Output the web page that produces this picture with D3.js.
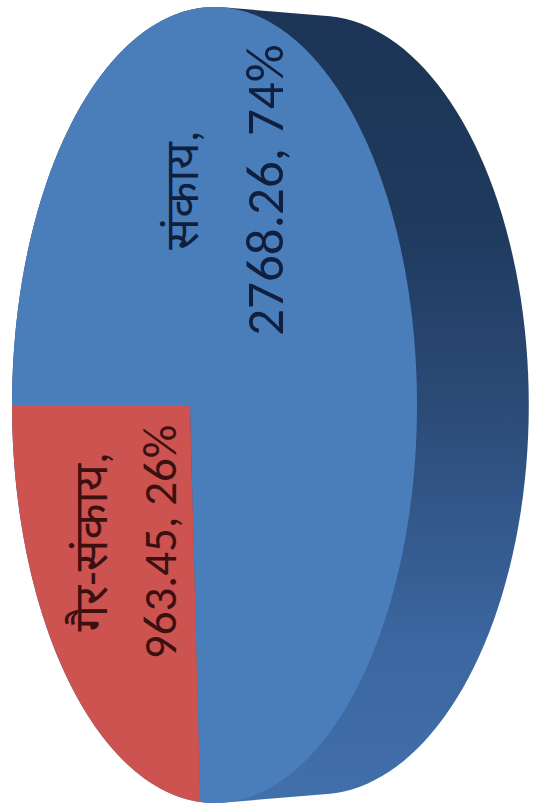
<!DOCTYPE html>
<html>
<head>
<meta charset="utf-8">
<script src="https://cdn.jsdelivr.net/npm/d3@7"></script>
<style>
  html, body { margin: 0; padding: 0; background: #fff; }
</style>
</head>
<body>
<div id="chart"></div>
<script>
// data
const categories = ["संकाय", "गैर-संकाय"];
const values = [2768.26, 963.45];
const percentLabels = ["74%", "26%"];

const W = 544, H = 812;

// colours
const topColors = ["#4a7ebb", "#cc5350"];
const textColors = ["#0f1f3d", "#3a1010"];

// 3d pie settings (drawn in a frame turned by 90 degrees)
const cx = 407, cy = 190;          // centre of the top face
const sinPhi = 0.505, cosPhi = 0.863;
const D = 7.13;                    // camera distance, radius = 1
const f = 2817;
const depth = 0.31;                // thickness of the pie

function project(theta, h) {
    const u = Math.sin(theta), w = Math.cos(theta);
    const z = D + w * cosPhi - h * sinPhi;
    return [cx + f * u / z, cy - f * (w * sinPhi + h * cosPhi) / z];
}
function projectR(theta, r) {
    const u = r * Math.sin(theta), w = r * Math.cos(theta);
    const z = D + w * cosPhi;
    return [cx + f * u / z, cy - f * (w * sinPhi) / z];
}

const svg = d3.select("#chart").append("svg")
    .attr("width", W)
    .attr("height", H);

// turn everything by -90 degrees like the original picture
const g = svg.append("g")
    .attr("transform", "translate(0," + H + ") rotate(-90)");

const defs = svg.append("defs");
const grad = defs.append("linearGradient")
    .attr("id", "side")
    .attr("gradientUnits", "userSpaceOnUse")
    .attr("x1", 0).attr("y1", 0).attr("x2", 812).attr("y2", 0);
grad.append("stop").attr("offset", "0%").attr("stop-color", "#4270aa");
grad.append("stop").attr("offset", "20%").attr("stop-color", "#3c67a1");
grad.append("stop").attr("offset", "50%").attr("stop-color", "#2b4b77");
grad.append("stop").attr("offset", "72%").attr("stop-color", "#1f3a5e");
grad.append("stop").attr("offset", "100%").attr("stop-color", "#1c3455");

// side of the cylinder = hull of top and bottom outlines
const steps = d3.range(0, 361, 2).map(d => d * Math.PI / 180);
const outline = steps.map(t => project(t, 0)).concat(steps.map(t => project(t, -depth)));
const hull = d3.polygonHull(outline);
g.append("path")
    .attr("d", "M" + hull.join("L") + "Z")
    .attr("fill", "url(#side)");

// top faces
const pie = d3.pie().sort(null).value(d => d)(values);
const line = d3.line();

pie.forEach((p, i) => {
    const n = Math.max(2, Math.ceil((p.endAngle - p.startAngle) / 0.01));
    const pts = [[cx, cy]];
    for (let k = 0; k <= n; k++) {
        const t = p.startAngle + (p.endAngle - p.startAngle) * k / n;
        pts.push(project(t, 0));
    }
    g.append("path")
        .attr("d", line(pts) + "Z")
        .attr("fill", topColors[i]);
});

// labels: angle, radius on the top face, offsets of the two lines, size of second line
const labelSpots = [
    [119 * Math.PI / 180, 0.6, -52, 33, 53],
    [304 * Math.PI / 180, 0.43, -36, 33, 47]
];
const fmt = d3.format(".2f");

pie.forEach((p, i) => {
    const s = labelSpots[i];
    const pos = projectR(s[0], s[1]);
    const t = g.append("text")
        .attr("text-anchor", "middle")
        .attr("font-family", "Calibri, Carlito, 'Noto Sans', 'Liberation Sans', sans-serif")
        .attr("fill", textColors[i]);
    t.append("tspan")
        .attr("x", pos[0]).attr("y", pos[1] + s[2])
        .attr("font-size", 47)
        .text(categories[i] + ",");
    t.append("tspan")
        .attr("x", pos[0]).attr("y", pos[1] + s[3])
        .attr("font-size", s[4])
        .text(fmt(values[i]) + ", " + percentLabels[i]);
});
</script>
</body>
</html>
